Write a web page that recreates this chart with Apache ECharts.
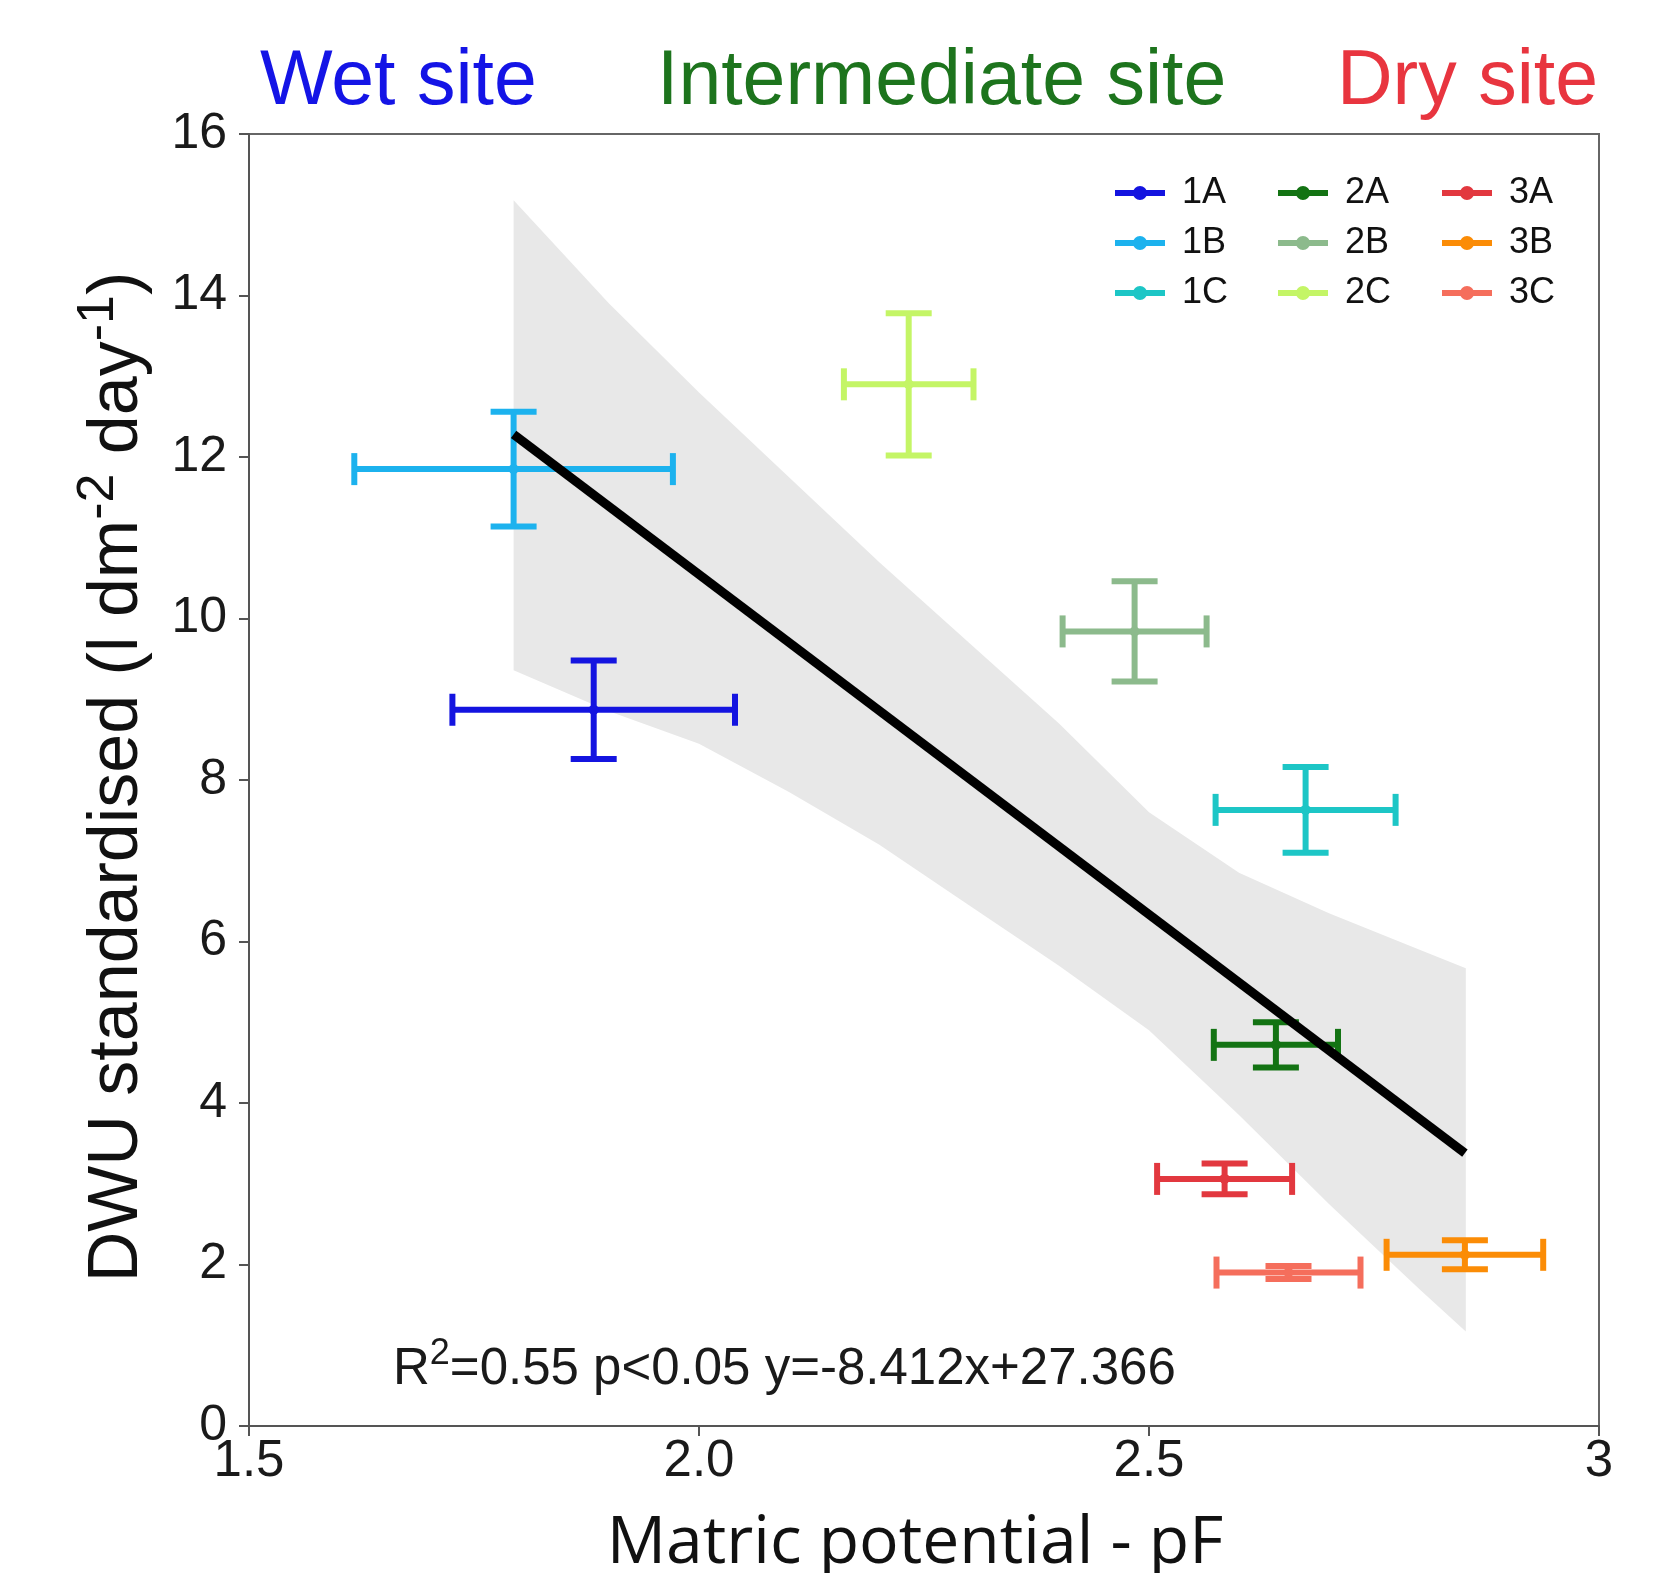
<!DOCTYPE html>
<html>
<head>
<meta charset="utf-8">
<script src="https://cdn.jsdelivr.net/npm/echarts@6.0.0/dist/echarts.min.js"></script>
<style>
  html, body { margin: 0; padding: 0; background: #fff; }
  #chart { width: 1654px; height: 1573px; }
</style>
</head>
<body>
<div id="chart"></div>
<script>
// plots (names, matric potential pF, DWU standardised) with their error bars
const plots = ['1A', '1B', '1C', '2A', '2B', '2C', '3A', '3B', '3C'];
const plotColors = ['#1414e0', '#1cb2ee', '#1dc6c6', '#137313', '#8cba8c', '#c4f566', '#e2383f', '#fb8c06', '#f56e5c'];
const pf = [1.883, 1.794, 2.674, 2.641, 2.484, 2.233, 2.584, 2.851, 2.655];
const pfErr = [0.157, 0.177, 0.100, 0.069, 0.080, 0.072, 0.075, 0.087, 0.080];
const dwu = [8.87, 11.85, 7.63, 4.72, 9.84, 12.90, 3.06, 2.12, 1.90];
const dwuErr = [0.61, 0.71, 0.53, 0.28, 0.62, 0.88, 0.19, 0.18, 0.08];

// fitted line end points and confidence band edges
const fitX = [1.794, 2.851];
const fitY = [12.28, 3.38];
const bandX = [1.794, 1.90, 2.00, 2.10, 2.20, 2.30, 2.40, 2.50, 2.60, 2.70, 2.80, 2.852];
const bandUpper = [15.18, 13.90, 12.80, 11.75, 10.70, 9.70, 8.70, 7.60, 6.85, 6.35, 5.90, 5.67];
const bandLower = [9.36, 8.85, 8.45, 7.85, 7.20, 6.45, 5.70, 4.90, 3.85, 2.75, 1.70, 1.17];

const xTickLabels = ['1.5', '2.0', '2.5', '3'];
const yTicks = [0, 2, 4, 6, 8, 10, 12, 14, 16];

const FONT = '"Liberation Sans", Arial, sans-serif';

function renderCross(params, api) {
  const x = api.value(0), y = api.value(1), ex = api.value(2), ey = api.value(3);
  const c = api.coord([x, y]);
  const l = api.coord([x - ex, y]);
  const r = api.coord([x + ex, y]);
  const t = api.coord([x, y + ey]);
  const b = api.coord([x, y - ey]);
  const color = api.visual('color');
  const st = { stroke: color, lineWidth: 6, lineCap: 'butt' };
  const seg = (x1, y1, x2, y2) => ({ type: 'line', shape: { x1, y1, x2, y2 }, style: st });
  return {
    type: 'group',
    children: [
      seg(l[0], l[1], r[0], r[1]),
      seg(t[0], t[1], b[0], b[1]),
      seg(l[0], l[1] - 16, l[0], l[1] + 16),
      seg(r[0], r[1] - 16, r[0], r[1] + 16),
      seg(t[0] - 23, t[1], t[0] + 23, t[1]),
      seg(b[0] - 23, b[1], b[0] + 23, b[1]),
      { type: 'circle', shape: { cx: c[0], cy: c[1], r: 5 }, style: { fill: color } }
    ]
  };
}

function renderBand(params, api) {
  if (params.dataIndex !== 0) return null;
  const pts = [];
  bandX.forEach((x, i) => pts.push(api.coord([x, bandUpper[i]])));
  for (let i = bandX.length - 1; i >= 0; i--) pts.push(api.coord([bandX[i], bandLower[i]]));
  return { type: 'polygon', shape: { points: pts }, style: { fill: '#e8e8e8' } };
}

const series = [
  {
    type: 'custom',
    name: 'band',
    renderItem: renderBand,
    data: [[bandX[0], bandUpper[0]]],
    z: 1,
    silent: true
  },
  ...plots.map((p, i) => ({
    type: 'custom',
    name: p,
    renderItem: renderCross,
    itemStyle: { color: plotColors[i] },
    data: [[pf[i], dwu[i], pfErr[i], dwuErr[i]]],
    encode: { x: 0, y: 1 },
    z: 3
  })),
  {
    type: 'line',
    name: 'fit',
    data: fitX.map((x, i) => [x, fitY[i]]),
    symbol: 'none',
    lineStyle: { color: '#000', width: 9 },
    z: 4,
    silent: true
  }
];

const legendIcon = 'path://M0,4 L50,4 L50,10 L0,10 Z M25,0 A7,7 0 1 1 25,14 A7,7 0 1 1 25,0 Z';
const legendCols = [[0, 1, 2], [3, 4, 5], [6, 7, 8]];
const legendLeft = [1110, 1273, 1437];
const legend = legendCols.map((col, k) => ({
  data: col.map(i => ({ name: plots[i], icon: legendIcon })),
  orient: 'vertical',
  left: legendLeft[k],
  top: 170,
  itemWidth: 50,
  itemHeight: 14,
  itemGap: 14,
  selectedMode: false,
  itemStyle: { borderWidth: 0 },
  textStyle: { fontSize: 36, lineHeight: 36, color: '#111', fontFamily: FONT, padding: [0, 0, 0, 12] }
}));

const option = {
  animation: false,
  backgroundColor: '#fff',
  grid: {
    left: 249, right: 55, top: 134, bottom: 147,
    show: true, borderColor: '#666', borderWidth: 2,
    containLabel: false, outerBoundsMode: 'none'
  },
  legend,
  xAxis: {
    type: 'value',
    min: 1.5, max: 3, interval: 0.5,
    axisLine: { show: true, lineStyle: { color: '#555', width: 2 } },
    axisTick: { show: true, length: 10, lineStyle: { color: '#555', width: 2 } },
    splitLine: { show: false },
    axisLabel: {
      fontSize: 51, color: '#1a1a1a', fontFamily: FONT, margin: 10,
      formatter: v => xTickLabels[Math.round((v - 1.5) / 0.5)]
    }
  },
  yAxis: {
    type: 'value',
    min: yTicks[0], max: yTicks[yTicks.length - 1], interval: 2,
    axisLine: { show: true, lineStyle: { color: '#555', width: 2 } },
    axisTick: { show: true, length: 10, lineStyle: { color: '#555', width: 2 } },
    splitLine: { show: false },
    axisLabel: { fontSize: 50, color: '#1a1a1a', fontFamily: FONT, margin: 22 }
  },
  graphic: [
    { type: 'text', x: 260, y: 83, style: { text: 'Wet site', fontSize: 77, fontFamily: FONT, fill: '#1414e6', align: 'left', verticalAlign: 'middle' } },
    { type: 'text', x: 657, y: 83, style: { text: 'Intermediate site', fontSize: 77, fontFamily: FONT, fill: '#1d741d', align: 'left', verticalAlign: 'middle' } },
    { type: 'text', x: 1337, y: 83, style: { text: 'Dry site', fontSize: 77, fontFamily: FONT, fill: '#e8353f', align: 'left', verticalAlign: 'middle' } },
    {
      type: 'text', x: 393, y: 1370,
      style: {
        text: '{m|R}{s|2}{m|=0.55 p<0.05 y=-8.412x+27.366}',
        align: 'left', verticalAlign: 'middle',
        rich: {
          m: { fontSize: 51, lineHeight: 68, fontFamily: FONT, fill: '#1a1a1a' },
          s: { fontSize: 36, lineHeight: 32, fontFamily: FONT, fill: '#1a1a1a', verticalAlign: 'top' }
        }
      }
    },
    {
      type: 'text', x: 118, y: 777, rotation: Math.PI / 2,
      style: {
        text: '{m|DWU standardised (l dm}{s|-2}{m| day}{s|-1}{m|)}',
        align: 'center', verticalAlign: 'middle',
        rich: {
          m: { fontSize: 70, lineHeight: 90, fontFamily: FONT, fill: '#111' },
          s: { fontSize: 52, lineHeight: 52, fontFamily: FONT, fill: '#111', verticalAlign: 'top' }
        }
      }
    },
    { type: 'text', x: 915, y: 1544, style: { text: 'Matric potential - pF', fontSize: 66, fontFamily: '"Open Sans", sans-serif', fill: '#111', align: 'center', verticalAlign: 'middle' } }
  ],
  series
};

const chart = echarts.init(document.getElementById('chart'));
chart.setOption(option);
</script>
</body>
</html>
